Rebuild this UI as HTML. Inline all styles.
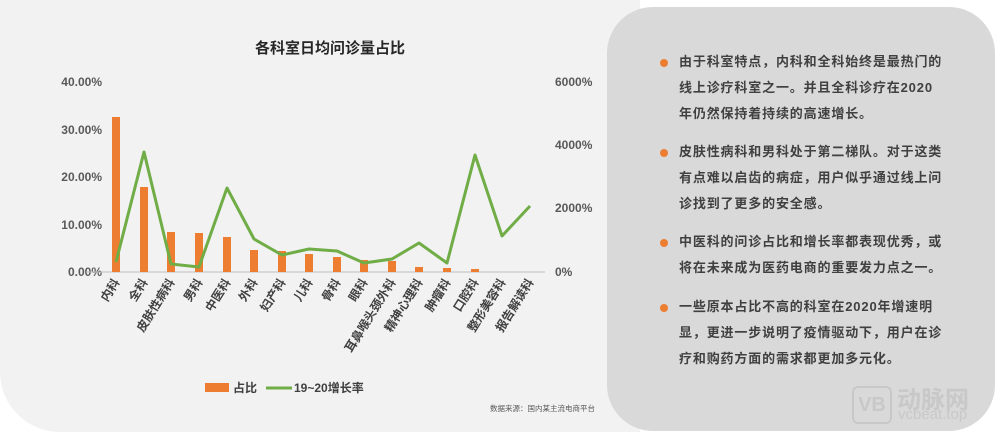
<!DOCTYPE html>
<html><head><meta charset="utf-8"><style>
body{margin:0;width:1000px;height:438px;background:#fff;position:relative;overflow:hidden;font-family:"Liberation Sans","Noto Sans CJK SC",sans-serif}
.lp{position:absolute;left:0;top:0;width:640px;height:432px;background:#f2f2f2;border-bottom-left-radius:60px}
.rp{position:absolute;left:607px;top:7px;width:388px;height:424px;background:#d9d9d9;border-radius:46px}
.t{position:absolute;left:679px;font-size:13px;font-weight:bold;color:#404040;line-height:26px;white-space:nowrap;letter-spacing:0.85px}
.d{position:absolute;left:660px;width:8px;height:8px;border-radius:50%;background:#ed7d31}
svg{position:absolute;left:0;top:0}
</style></head><body>
<div class="lp"></div><div class="rp"></div>
<svg width="640" height="438" font-family="Liberation Sans, Noto Sans CJK SC, sans-serif">
<text x="330" y="53" text-anchor="middle" font-size="15" font-weight="bold" fill="#262626">各科室日均问诊量占比</text>
<g font-size="12" fill="#595959" font-weight="bold">
<text x="102" y="86" text-anchor="end">40.00%</text>
<text x="102" y="134" text-anchor="end">30.00%</text>
<text x="102" y="181" text-anchor="end">20.00%</text>
<text x="102" y="229" text-anchor="end">10.00%</text>
<text x="102" y="276" text-anchor="end">0.00%</text>
<text x="555" y="86">6000%</text>
<text x="555" y="149">4000%</text>
<text x="555" y="212">2000%</text>
<text x="555" y="276">0%</text>
</g>
<line x1="86" y1="272" x2="545" y2="272" stroke="#bfbfbf"/>
<g fill="#ed7d31">
<rect x="112" y="117" width="8" height="155"/>
<rect x="140" y="187" width="8" height="85"/>
<rect x="167" y="232" width="8" height="40"/>
<rect x="195" y="233" width="8" height="39"/>
<rect x="223" y="237" width="8" height="35"/>
<rect x="250" y="250" width="8" height="22"/>
<rect x="278" y="251" width="8" height="21"/>
<rect x="305" y="254" width="8" height="18"/>
<rect x="333" y="257" width="8" height="15"/>
<rect x="360" y="260" width="8" height="12"/>
<rect x="388" y="261" width="8" height="11"/>
<rect x="415" y="267" width="8" height="5"/>
<rect x="443" y="268" width="8" height="4"/>
<rect x="471" y="269" width="8" height="3"/>
</g>
<polyline fill="none" stroke="#70ad47" stroke-width="3" stroke-linejoin="round" points="116,262 144,152 171,264 199,267 227,188 254,239 282,255 309,249 337,251 364,263 392,259 419,243 447,263 475,155 502,236 530,206"/>
<g font-size="12" fill="#404040" font-weight="bold" text-anchor="end">
<text transform="translate(120,282) rotate(-58)">内科</text>
<text transform="translate(148,282) rotate(-58)">全科</text>
<text transform="translate(175,282) rotate(-58)">皮肤性病科</text>
<text transform="translate(203,282) rotate(-58)">男科</text>
<text transform="translate(231,282) rotate(-58)">中医科</text>
<text transform="translate(258,282) rotate(-58)">外科</text>
<text transform="translate(286,282) rotate(-58)">妇产科</text>
<text transform="translate(313,282) rotate(-58)">儿科</text>
<text transform="translate(341,282) rotate(-58)">骨科</text>
<text transform="translate(368,282) rotate(-58)">眼科</text>
<text transform="translate(396,282) rotate(-58)">耳鼻喉头颈外科</text>
<text transform="translate(423,282) rotate(-58)">精神心理科</text>
<text transform="translate(451,282) rotate(-58)">肿瘤科</text>
<text transform="translate(479,282) rotate(-58)">口腔科</text>
<text transform="translate(506,282) rotate(-58)">整形美容科</text>
<text transform="translate(534,282) rotate(-58)">报告解读科</text>
</g>
<rect x="205" y="383" width="24" height="9" fill="#ed7d31"/>
<text x="233" y="392" font-size="12" font-weight="bold" fill="#404040">占比</text>
<line x1="266" y1="388" x2="292" y2="388" stroke="#70ad47" stroke-width="3"/>
<text x="294" y="392" font-size="12" font-weight="bold" fill="#404040">19~20增长率</text>
<text x="595" y="411" text-anchor="end" font-size="7.5" fill="#595959">数据来源：国内某主流电商平台</text>
</svg>
<div class="d" style="top:59px"></div>
<div class="t" style="top:49px">由于科室特点，内科和全科始终是最热门的<br>线上诊疗科室之一。并且全科诊疗在2020<br>年仍然保持着持续的高速增长。</div>
<div class="d" style="top:149px"></div>
<div class="t" style="top:139px">皮肤性病科和男科处于第二梯队。对于这类<br>有点难以启齿的病症，用户似乎通过线上问<br>诊找到了更多的安全感。</div>
<div class="d" style="top:239px"></div>
<div class="t" style="top:229px">中医科的问诊占比和增长率都表现优秀，或<br>将在未来成为医药电商的重要发力点之一。</div>
<div class="d" style="top:304px"></div>
<div class="t" style="top:294px">一些原本占比不高的科室在2020年增速明<br>显，更进一步说明了疫情驱动下，用户在诊<br>疗和购药方面的需求都更加多元化。</div>
<div style="position:absolute;left:852px;top:386px;width:36px;height:34px;border:2px solid #c8c8c8;border-radius:6px;color:#c8c8c8;font-weight:bold;font-size:20px;text-align:center;line-height:34px">VB</div>
<div style="position:absolute;left:897px;top:380px;font-size:24px;color:#c8c8c8;font-weight:bold">动脉网</div>
<div style="position:absolute;left:898px;top:406px;font-size:15px;color:#c8c8c8">vcbeat.top</div>
</body></html>
